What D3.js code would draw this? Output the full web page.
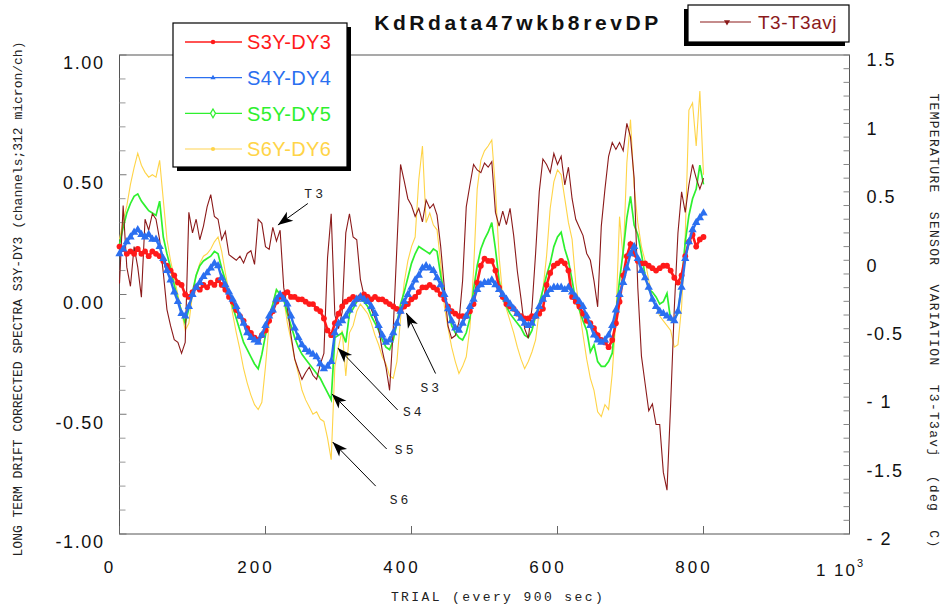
<!DOCTYPE html>
<html>
<head>
<meta charset="utf-8">
<script src="https://cdn.jsdelivr.net/npm/d3@7"></script>
<style>
  body { margin: 0; background: #fff; }
  svg { display: block; }
</style>
</head>
<body>
<svg id="chart" width="950" height="608"></svg>
<script>
// trial numbers (every 5th trial)
const trials = d3.range(0, 801, 5);

// S3Y-DY3 (red)
const s3 = [0.20,0.19,0.17,0.18,0.17,0.19,0.17,0.18,0.16,0.18,0.17,0.16,0.14,0.12,0.10,0.08,0.05,0.04,0.00,-0.01,
  0.01,0.03,0.02,0.04,0.03,0.05,0.04,0.06,0.04,0.02,-0.01,-0.03,-0.065,-0.09,-0.11,-0.14,-0.16,-0.18,-0.19,-0.17,
  -0.15,-0.11,-0.07,-0.03,-0.01,0.00,0.01,-0.01,-0.01,-0.02,-0.02,-0.03,-0.04,-0.04,-0.06,-0.07,-0.10,-0.15,-0.17,-0.12,
  -0.08,-0.05,-0.03,-0.02,-0.01,-0.02,-0.01,0.00,-0.01,-0.02,-0.01,-0.02,-0.02,-0.03,-0.04,-0.05,-0.06,-0.07,-0.05,-0.04,
  -0.02,-0.01,0.01,0.03,0.03,0.04,0.03,0.02,0.00,-0.02,-0.05,-0.07,-0.08,-0.09,-0.09,-0.09,-0.07,-0.04,0.05,0.12,
  0.15,0.14,0.14,0.10,0.03,-0.01,-0.04,-0.05,-0.06,-0.08,-0.09,-0.10,-0.10,-0.09,-0.09,-0.08,-0.06,0.04,0.09,0.12,
  0.13,0.14,0.13,0.10,-0.01,-0.03,-0.05,-0.08,-0.11,-0.12,-0.14,-0.17,-0.19,-0.20,-0.22,-0.19,-0.12,-0.03,0.08,0.16,
  0.21,0.17,0.14,0.13,0.13,0.12,0.11,0.10,0.11,0.12,0.12,0.10,0.07,0.05,0.08,0.16,0.22,0.25,0.20,0.23,
  0.24];

// S4Y-DY4 (blue)
const s4 = [0.17,0.19,0.22,0.24,0.26,0.27,0.25,0.24,0.25,0.23,0.23,0.20,0.15,0.10,0.06,0.01,-0.03,-0.08,-0.09,-0.05,
  0.00,0.03,0.05,0.075,0.09,0.11,0.13,0.12,0.07,0.04,0.01,-0.02,-0.05,-0.09,-0.12,-0.16,-0.18,-0.19,-0.20,-0.17,
  -0.13,-0.09,-0.065,-0.02,0.00,-0.02,-0.04,-0.09,-0.14,-0.18,-0.21,-0.23,-0.24,-0.25,-0.26,-0.29,-0.31,-0.30,-0.28,-0.16,
  -0.12,-0.11,-0.09,-0.065,-0.04,-0.02,-0.01,-0.02,-0.03,-0.05,-0.08,-0.13,-0.17,-0.20,-0.19,-0.16,-0.12,-0.07,-0.03,0.00,
  0.03,0.06,0.08,0.11,0.12,0.11,0.10,0.07,0.04,0.00,-0.06,-0.11,-0.14,-0.15,-0.12,-0.09,-0.05,-0.02,0.02,0.04,
  0.05,0.05,0.06,0.04,0.02,0.00,-0.02,-0.04,-0.06,-0.08,-0.10,-0.12,-0.13,-0.12,-0.09,-0.05,-0.02,0.00,0.02,0.03,
  0.03,0.03,0.02,0.03,0.01,-0.01,-0.03,-0.05,-0.09,-0.13,-0.17,-0.19,-0.20,-0.19,-0.17,-0.13,-0.065,0.00,0.05,0.11,
  0.17,0.20,0.15,0.10,0.07,0.03,-0.02,-0.05,-0.07,-0.08,-0.09,-0.10,-0.11,-0.07,0.03,0.15,0.22,0.27,0.30,0.32,
  0.34];

// S5Y-DY5 (green)
const s5 = [0.21,0.28,0.34,0.38,0.41,0.42,0.39,0.37,0.35,0.34,0.33,0.39,0.24,0.17,0.11,0.04,-0.02,-0.07,-0.12,-0.06,
  0.01,0.08,0.12,0.14,0.15,0.16,0.18,0.17,0.11,0.06,0.00,-0.05,-0.10,-0.15,-0.20,-0.23,-0.26,-0.29,-0.31,-0.25,
  -0.17,-0.09,-0.04,0.02,0.00,-0.02,-0.08,-0.13,-0.18,-0.22,-0.25,-0.27,-0.29,-0.31,-0.33,-0.35,-0.38,-0.41,-0.44,-0.18,
  -0.17,-0.16,-0.20,-0.08,-0.06,-0.03,-0.02,-0.03,-0.05,-0.09,-0.12,-0.15,-0.19,-0.22,-0.23,-0.19,-0.12,-0.04,0.01,0.07,
  0.13,0.17,0.20,0.19,0.18,0.17,0.19,0.18,0.08,0.00,-0.06,-0.13,-0.16,-0.18,-0.19,-0.16,-0.10,0.02,0.12,0.19,
  0.23,0.26,0.30,0.19,0.06,-0.02,-0.05,-0.08,-0.10,-0.12,-0.14,-0.17,-0.18,-0.15,-0.09,-0.04,0.02,0.08,0.13,0.20,
  0.24,0.26,0.19,0.14,0.06,-0.03,-0.065,-0.11,-0.15,-0.24,-0.21,-0.28,-0.30,-0.30,-0.28,-0.245,-0.08,0.06,0.18,0.32,
  0.41,0.29,0.25,0.17,0.08,0.02,0.01,-0.01,-0.04,-0.03,0.005,-0.107,-0.10,-0.08,0.05,0.22,0.33,0.40,0.44,0.54,
  0.46];

// S6Y-DY6 (yellow)
const s6 = [0.23,0.31,0.37,0.46,0.53,0.59,0.54,0.51,0.49,0.50,0.49,0.56,0.395,0.23,0.14,0.07,0.00,-0.07,-0.15,-0.12,
  0.00,0.08,0.13,0.16,0.17,0.19,0.22,0.24,0.18,0.09,0.01,-0.08,-0.16,-0.23,-0.31,-0.37,-0.42,-0.46,-0.48,-0.45,
  -0.30,-0.12,-0.04,0.02,0.00,-0.02,-0.12,-0.19,-0.27,-0.33,-0.40,-0.44,-0.47,-0.50,-0.49,-0.52,-0.53,-0.60,-0.69,-0.30,
  -0.22,-0.15,-0.34,-0.16,-0.13,-0.07,-0.04,-0.06,-0.08,-0.12,-0.17,-0.21,-0.26,-0.29,-0.34,-0.35,-0.28,-0.10,0.05,0.14,
  0.20,0.24,0.48,0.62,0.30,0.34,0.29,0.27,0.13,-0.05,-0.14,-0.22,-0.28,-0.33,-0.30,-0.26,-0.14,0.10,0.44,0.56,
  0.60,0.62,0.645,0.44,0.16,-0.01,-0.06,-0.11,-0.16,-0.22,-0.27,-0.31,-0.28,-0.24,-0.19,-0.07,0.02,0.16,0.36,0.47,
  0.52,0.50,0.40,0.30,0.23,0.05,-0.06,-0.17,-0.27,-0.35,-0.40,-0.49,-0.51,-0.46,-0.48,-0.33,-0.10,0.325,0.15,0.55,
  0.73,0.45,0.30,0.20,0.14,0.06,-0.01,-0.05,-0.09,-0.11,-0.13,-0.15,-0.22,-0.21,-0.05,0.25,0.77,0.80,0.62,0.85,
  0.50];

// T3-T3avj (deg C, right axis)
const t3 = [-0.17,0.40,-0.05,-0.19,0.10,-0.05,-0.27,0.30,0.22,0.34,0.30,0.15,-0.09,-0.36,-0.48,-0.58,-0.60,-0.68,-0.60,0.35,
  0.20,0.30,0.15,0.25,0.39,0.48,0.32,0.30,0.15,0.21,0.04,0.02,0.00,0.03,-0.02,0.05,0.07,-0.03,0.30,0.27,
  0.10,0.08,0.24,0.14,0.22,-0.20,-0.35,-0.55,-0.72,-0.80,-0.87,-0.82,-0.78,-0.84,-0.87,-0.76,-0.68,0.02,0.34,-0.40,
  -0.50,-0.38,0.20,0.34,0.17,0.15,-0.14,-0.26,-0.25,-0.36,-0.42,-0.50,-0.66,-0.78,-0.95,-0.50,0.10,0.70,0.58,0.45,
  0.40,0.32,0.38,0.28,0.44,0.38,0.41,0.33,0.10,-0.20,-0.48,-0.57,-0.55,-0.45,-0.15,0.39,0.55,0.70,0.66,0.64,
  0.71,0.68,0.72,0.35,0.25,0.36,0.26,0.38,0.18,-0.08,-0.28,-0.50,-0.57,-0.35,0.05,0.50,0.74,0.70,0.64,0.78,
  0.70,0.76,0.55,0.68,0.45,0.30,0.24,0.18,0.05,0.00,-0.15,-0.34,0.25,0.52,0.76,0.86,0.81,0.86,0.80,1.00,
  0.90,0.60,-0.20,-0.70,-0.90,-1.10,-1.05,-1.20,-1.20,-1.55,-1.68,-1.05,-0.35,0.20,0.50,0.35,0.55,0.70,0.60,0.52,
  0.60];

const leftTicks = [1, 0.5, 0, -0.5, -1];
const leftLabels = ["1.00", "0.50", "0.00", "-0.50", "-1.00"];
const rightTicks = [1.5, 1, 0.5, 0, -0.5, -1, -1.5, -2];
const rightLabels = ["1.5", "1", "0.5", "0", "-0.5", "- 1", "-1.5", "- 2"];
const xTicks = [0, 200, 400, 600, 800];

const seriesNames = ["S3Y-DY3", "S4Y-DY4", "S5Y-DY5", "S6Y-DY6"];
const seriesColors = ["#ff1a1a", "#2b6ff0", "#2ef02e", "#ffd447"];

// annotation arrows: [label, tip trial, tip value, tail trial, tail value, label trial, label value]
const notes = [
  ["T3", 217, 0.29, 258, 0.38, 268, 0.42],
  ["S3", 393, -0.077, 433, -0.33, 427, -0.39],
  ["S4", 299, -0.223, 381, -0.482, 403, -0.49],
  ["S5", 291, -0.415, 366, -0.645, 392, -0.645],
  ["S6", 292, -0.616, 351, -0.80, 385, -0.854]
];

const svg = d3.select("#chart");
const mono = "'Liberation Mono', 'Courier New', monospace";
const sans = "'Liberation Sans', Arial, sans-serif";

const mLeft = 119.5, mRight = 849.5, mTop = 55, mBottom = 534;

const x = d3.scaleLinear().domain([0, 1000]).range([mLeft, mRight]);
const y = d3.scaleLinear().domain([-1, 1]).range([mBottom, mTop]);
const yT = d3.scaleLinear().domain([-2, 1.5]).range([mBottom, mTop]);

// frame
svg.append("rect")
  .attr("x", mLeft).attr("y", mTop)
  .attr("width", mRight - mLeft).attr("height", mBottom - mTop)
  .attr("fill", "none").attr("stroke", "#555").attr("stroke-width", 1);

// inner ticks
const tickG = svg.append("g").attr("stroke", "#888");
tickG.selectAll("line.l").data(d3.range(-10, 11)).join("line")
  .attr("x1", mLeft).attr("x2", d => mLeft + (d % 5 === 0 ? 7 : 6))
  .attr("y1", d => y(d / 10)).attr("y2", d => y(d / 10))
  .attr("stroke", d => d % 5 === 0 ? "#777" : "#999");
tickG.selectAll("line.r").data(d3.range(-20, 16)).join("line")
  .attr("x1", mRight).attr("x2", mRight - 6)
  .attr("y1", d => yT(d / 10)).attr("y2", d => yT(d / 10));
tickG.selectAll("line.b").data(xTicks).join("line")
  .attr("x1", d => x(d)).attr("x2", d => x(d))
  .attr("y1", mBottom).attr("y2", mBottom - 8)
  .attr("stroke", "#666");

// axis labels via d3 axes
const yAxis = svg.append("g")
  .attr("transform", `translate(${mLeft},0)`)
  .call(d3.axisLeft(y).tickValues(leftTicks).tickSize(0).tickPadding(15)
    .tickFormat((d, i) => leftLabels[i]));
yAxis.select(".domain").remove();
yAxis.selectAll("text")
  .attr("dy", "0.32em").attr("y", 8)
  .style("font-family", sans).style("font-size", "18px")
  .style("letter-spacing", "1.6px").attr("fill", "#111");

const yAxisR = svg.append("g")
  .attr("transform", `translate(${mRight},0)`)
  .call(d3.axisRight(yT).tickValues(rightTicks).tickSize(0).tickPadding(17)
    .tickFormat((d, i) => rightLabels[i]));
yAxisR.select(".domain").remove();
yAxisR.selectAll("text")
  .attr("dy", "0.32em").attr("y", 5)
  .style("font-family", sans).style("font-size", "18px")
  .style("letter-spacing", "1.5px").attr("fill", "#111");

const xAxis = svg.append("g")
  .attr("transform", `translate(0,${mBottom})`)
  .call(d3.axisBottom(x).tickValues(xTicks).tickSize(0).tickPadding(27)
    .tickFormat(d3.format("d")));
xAxis.select(".domain").remove();
xAxis.selectAll("text")
  .attr("x", -10)
  .style("font-family", sans).style("font-size", "17px")
  .style("letter-spacing", "3px").attr("fill", "#111");

// "1 10^3" label at the end of the x axis
const endLbl = svg.append("text")
  .attr("x", x(1000) - 9).attr("y", mBottom + 42)
  .attr("text-anchor", "middle")
  .style("font-family", sans).style("font-size", "17px")
  .style("letter-spacing", "2px").attr("fill", "#111");
endLbl.append("tspan").text("1 10");
endLbl.append("tspan").attr("dy", -9).style("font-size", "11px").text("3");

// axis titles
svg.append("text")
  .attr("transform", `translate(22,299) rotate(-90)`)
  .attr("text-anchor", "middle")
  .style("font-family", mono).style("font-size", "13px").attr("fill", "#222")
  .text("LONG TERM DRIFT CORRECTED SPECTRA S3Y-DY3 (channels;312 micron/ch)");

svg.append("text")
  .attr("transform", `translate(930,321) rotate(90)`)
  .attr("text-anchor", "middle")
  .style("font-family", mono).style("font-size", "13px")
  .style("letter-spacing", "1.3px").attr("fill", "#222")
  .style("white-space", "pre").attr("xml:space", "preserve")
  .text("TEMPERATURE  SENSOR  VARIATION  T3-T3avj  (deg  C)");

svg.append("text")
  .attr("x", 498).attr("y", 601)
  .attr("text-anchor", "middle")
  .style("font-family", mono).style("font-size", "13px")
  .style("letter-spacing", "2.4px").attr("fill", "#222")
  .text("TRIAL (every 900 sec)");

// title
svg.append("text")
  .attr("x", 518).attr("y", 30)
  .attr("text-anchor", "middle")
  .style("font-family", sans).style("font-size", "21px").style("font-weight", "bold")
  .style("letter-spacing", "3.6px").attr("fill", "#111")
  .text("KdRdata47wkb8revDP");

// data lines
const plot = svg.append("g");
const lineL = vals => d3.line().x((d, i) => x(trials[i])).y(d => y(d))(vals);
const lineT = d3.line().x((d, i) => x(trials[i])).y(d => yT(d));

plot.append("path").attr("d", lineL(s6))
  .attr("fill", "none").attr("stroke", seriesColors[3]).attr("stroke-width", 1.1);
plot.append("path").attr("d", lineL(s5))
  .attr("fill", "none").attr("stroke", seriesColors[2]).attr("stroke-width", 1.7);
plot.append("path").attr("d", lineT(t3))
  .attr("fill", "none").attr("stroke", "#8b1a1a").attr("stroke-width", 1.1);

// S3 red dotted trace
plot.append("path").attr("d", lineL(s3))
  .attr("fill", "none").attr("stroke", seriesColors[0]).attr("stroke-width", 2.6);
plot.selectAll("circle.s3").data(s3).join("circle")
  .attr("cx", (d, i) => x(trials[i])).attr("cy", d => y(d))
  .attr("r", 2.9).attr("fill", seriesColors[0]);

// S4 blue triangles
plot.append("path").attr("d", lineL(s4))
  .attr("fill", "none").attr("stroke", seriesColors[1]).attr("stroke-width", 2.4);
const tri = d3.symbol().type(d3.symbolTriangle).size(30);
plot.selectAll("path.s4").data(s4).join("path")
  .attr("transform", (d, i) => `translate(${x(trials[i])},${y(d)})`)
  .attr("d", tri).attr("fill", seriesColors[1]);

// annotations
const arrowHead = "M0,0 L-15,-5.5 L-11,0 L-15,5.5 Z";
const noteG = svg.append("g");
notes.forEach(n => {
  const x1 = x(n[3]), y1 = y(n[4]), x2 = x(n[1]), y2 = y(n[2]);
  const ang = Math.atan2(y2 - y1, x2 - x1) * 180 / Math.PI;
  noteG.append("line")
    .attr("x1", x1).attr("y1", y1).attr("x2", x2).attr("y2", y2)
    .attr("stroke", "#000").attr("stroke-width", 1);
  noteG.append("path").attr("d", arrowHead)
    .attr("transform", `translate(${x2},${y2}) rotate(${ang})`)
    .attr("fill", "#000");
  noteG.append("text")
    .attr("x", x(n[5])).attr("y", y(n[6])).attr("dy", "0.35em")
    .attr("text-anchor", "middle")
    .style("font-family", mono).style("font-size", "13px")
    .style("letter-spacing", "3px").attr("fill", "#222")
    .text(n[0]);
});

// legend for the spectra
const leg = svg.append("g").attr("transform", "translate(173,23)");
leg.append("rect").attr("x", 4).attr("y", 4).attr("width", 174).attr("height", 144).attr("fill", "#000");
leg.append("rect").attr("width", 174).attr("height", 144)
  .attr("fill", "#fff").attr("stroke", "#000").attr("stroke-width", 1.2);
const legY = d3.scalePoint().domain(seriesNames).range([19, 126]);
const legColorsLine = ["#ff1a1a", "#2b6ff0", "#2ef02e", "#ffe9a8"];
seriesNames.forEach((name, i) => {
  const yy = legY(name);
  leg.append("line").attr("x1", 12).attr("x2", 69).attr("y1", yy).attr("y2", yy)
    .attr("stroke", legColorsLine[i]).attr("stroke-width", i === 3 ? 2 : 1.3);
  const mk = leg.append("path").attr("transform", `translate(40,${yy})`);
  if (i === 0) mk.attr("d", d3.symbol().type(d3.symbolCircle).size(16)).attr("fill", seriesColors[0]);
  if (i === 1) mk.attr("d", d3.symbol().type(d3.symbolTriangle).size(12)).attr("fill", seriesColors[1]);
  if (i === 2) mk.attr("d", d3.symbol().type(d3.symbolDiamond).size(22)).attr("fill", "#fff")
    .attr("stroke", seriesColors[2]).attr("stroke-width", 1.2);
  if (i === 3) mk.attr("d", d3.symbol().type(d3.symbolCircle).size(14)).attr("fill", seriesColors[3]);
  leg.append("text").attr("x", 74).attr("y", yy).attr("dy", "0.36em")
    .style("font-family", sans).style("font-size", "20px")
    .style("letter-spacing", "0.4px")
    .attr("fill", seriesColors[i]).text(name);
});

// legend for the temperature sensor
const leg2 = svg.append("g").attr("transform", "translate(688,5)");
leg2.append("rect").attr("x", -4).attr("y", 4).attr("width", 161).attr("height", 37).attr("fill", "#000");
leg2.append("rect").attr("width", 161).attr("height", 37)
  .attr("fill", "#fff").attr("stroke", "#000").attr("stroke-width", 1.2);
leg2.append("line").attr("x1", 12).attr("x2", 63).attr("y1", 17).attr("y2", 17)
  .attr("stroke", "#8b1a1a").attr("stroke-width", 1.2);
leg2.append("path").attr("transform", "translate(39,17) rotate(180)")
  .attr("d", d3.symbol().type(d3.symbolTriangle).size(16)).attr("fill", "#8b1a1a");
leg2.append("text").attr("x", 70).attr("y", 17).attr("dy", "0.36em")
  .style("font-family", sans).style("font-size", "19px")
  .style("letter-spacing", "0.5px").attr("fill", "#8b1a1a").text("T3-T3avj");
</script>
</body>
</html>
